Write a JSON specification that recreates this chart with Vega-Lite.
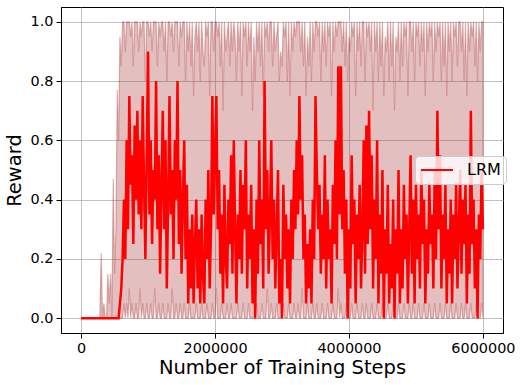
{
"$schema": "https://vega.github.io/schema/vega-lite/v6.json",
"width": 442, "height": 326,
"autosize": {"type": "none"},
"padding": {"left": 61, "top": 7, "right": 24, "bottom": 52},
"background": "white",
"config": {
 "view": {"stroke": "#000", "strokeWidth": 1},
 "font": "DejaVu Sans",
 "axis": {"labelFont": "DejaVu Sans", "titleFont": "DejaVu Sans", "labelFontSize": 14.4, "titleFontSize": 19.5, "titleFontWeight": "normal", "labelColor": "#000", "titleColor": "#000", "tickColor": "#000", "domainColor": "#000", "gridColor": "#b0b0b0", "gridWidth": 0.8, "tickSize": 5, "tickWidth": 1, "labelPadding": 3}
},
"data": {"values": [
{"s":0,"r":0,"lo":0,"hi":0},
{"s":20000,"r":0,"lo":0,"hi":0},
{"s":40000,"r":0,"lo":0,"hi":0},
{"s":60000,"r":0,"lo":0,"hi":0},
{"s":80000,"r":0,"lo":0,"hi":0},
{"s":100000,"r":0,"lo":0,"hi":0},
{"s":120000,"r":0,"lo":0,"hi":0},
{"s":140000,"r":0,"lo":0,"hi":0},
{"s":160000,"r":0,"lo":0,"hi":0},
{"s":180000,"r":0,"lo":0,"hi":0},
{"s":200000,"r":0,"lo":0,"hi":0},
{"s":220000,"r":0,"lo":0,"hi":0},
{"s":240000,"r":0,"lo":0,"hi":0},
{"s":260000,"r":0,"lo":0,"hi":0},
{"s":280000,"r":0,"lo":0,"hi":0},
{"s":300000,"r":0,"lo":0,"hi":0.22},
{"s":320000,"r":0,"lo":0,"hi":0},
{"s":340000,"r":0,"lo":0,"hi":0.05},
{"s":360000,"r":0,"lo":0,"hi":0},
{"s":380000,"r":0,"lo":0,"hi":0},
{"s":400000,"r":0,"lo":0,"hi":0.15},
{"s":420000,"r":0,"lo":0,"hi":0.05},
{"s":440000,"r":0,"lo":0,"hi":0.15},
{"s":460000,"r":0,"lo":0,"hi":0},
{"s":480000,"r":0,"lo":0,"hi":0.47},
{"s":500000,"r":0,"lo":0,"hi":0.15},
{"s":520000,"r":0,"lo":0,"hi":0.3},
{"s":540000,"r":0,"lo":0,"hi":0.77},
{"s":560000,"r":0,"lo":0,"hi":0.6},
{"s":580000,"r":0.05,"lo":0,"hi":0.95},
{"s":600000,"r":0.1,"lo":0,"hi":0.85},
{"s":620000,"r":0.2,"lo":0,"hi":1},
{"s":640000,"r":0.4,"lo":0.05,"hi":1},
{"s":660000,"r":0.2,"lo":0,"hi":0.9},
{"s":680000,"r":0.6,"lo":0.05,"hi":1},
{"s":700000,"r":0.3,"lo":0,"hi":1},
{"s":720000,"r":0.75,"lo":0.1,"hi":1},
{"s":740000,"r":0.45,"lo":0,"hi":0.95},
{"s":760000,"r":0.55,"lo":0.05,"hi":1},
{"s":780000,"r":0.25,"lo":0,"hi":0.85},
{"s":800000,"r":0.65,"lo":0,"hi":1},
{"s":820000,"r":0.4,"lo":0.05,"hi":1},
{"s":840000,"r":0.7,"lo":0,"hi":1},
{"s":860000,"r":0.35,"lo":0,"hi":0.9},
{"s":880000,"r":0.6,"lo":0.1,"hi":1},
{"s":900000,"r":0.3,"lo":0,"hi":0.95},
{"s":920000,"r":0.75,"lo":0.05,"hi":1},
{"s":940000,"r":0.45,"lo":0,"hi":1},
{"s":960000,"r":0.2,"lo":0,"hi":0.8},
{"s":980000,"r":0.55,"lo":0.05,"hi":1},
{"s":1000000,"r":0.9,"lo":0,"hi":1},
{"s":1020000,"r":0.35,"lo":0,"hi":0.95},
{"s":1040000,"r":0.6,"lo":0.05,"hi":1},
{"s":1060000,"r":0.25,"lo":0,"hi":0.9},
{"s":1080000,"r":0.5,"lo":0,"hi":1},
{"s":1100000,"r":0.4,"lo":0.1,"hi":1},
{"s":1120000,"r":0.8,"lo":0,"hi":1},
{"s":1140000,"r":0.3,"lo":0,"hi":0.85},
{"s":1160000,"r":0.55,"lo":0.05,"hi":1},
{"s":1180000,"r":0.15,"lo":0,"hi":0.95},
{"s":1200000,"r":0.45,"lo":0,"hi":1},
{"s":1220000,"r":0.7,"lo":0.05,"hi":1},
{"s":1240000,"r":0.3,"lo":0,"hi":0.9},
{"s":1260000,"r":0.6,"lo":0,"hi":1},
{"s":1280000,"r":0.1,"lo":0,"hi":0.8},
{"s":1300000,"r":0.4,"lo":0.05,"hi":1},
{"s":1320000,"r":0.75,"lo":0,"hi":1},
{"s":1340000,"r":0.35,"lo":0,"hi":0.95},
{"s":1360000,"r":0.5,"lo":0.1,"hi":1},
{"s":1380000,"r":0.2,"lo":0,"hi":0.9},
{"s":1400000,"r":0.6,"lo":0,"hi":1},
{"s":1420000,"r":0.4,"lo":0.05,"hi":1},
{"s":1440000,"r":0.8,"lo":0,"hi":1},
{"s":1460000,"r":0.25,"lo":0,"hi":0.85},
{"s":1480000,"r":0.5,"lo":0.05,"hi":1},
{"s":1500000,"r":0.15,"lo":0,"hi":0.95},
{"s":1520000,"r":0.4,"lo":0,"hi":1},
{"s":1540000,"r":0.6,"lo":0.05,"hi":1},
{"s":1560000,"r":0.2,"lo":0,"hi":0.8},
{"s":1580000,"r":0.45,"lo":0,"hi":1},
{"s":1600000,"r":0.05,"lo":0,"hi":0.9},
{"s":1620000,"r":0.3,"lo":0.05,"hi":1},
{"s":1640000,"r":0.1,"lo":0,"hi":0.85},
{"s":1660000,"r":0.35,"lo":0,"hi":1},
{"s":1680000,"r":0.05,"lo":0,"hi":0.75},
{"s":1700000,"r":0.25,"lo":0,"hi":0.95},
{"s":1720000,"r":0.4,"lo":0.05,"hi":1},
{"s":1740000,"r":0.1,"lo":0,"hi":0.9},
{"s":1760000,"r":0.3,"lo":0,"hi":1},
{"s":1780000,"r":0.05,"lo":0,"hi":0.8},
{"s":1800000,"r":0.35,"lo":0.05,"hi":1},
{"s":1820000,"r":0.15,"lo":0,"hi":0.9},
{"s":1840000,"r":0.05,"lo":0,"hi":0.85},
{"s":1860000,"r":0.4,"lo":0,"hi":1},
{"s":1880000,"r":0.2,"lo":0.05,"hi":0.95},
{"s":1900000,"r":0.5,"lo":0,"hi":1},
{"s":1920000,"r":0.1,"lo":0,"hi":0.75},
{"s":1940000,"r":0.3,"lo":0,"hi":1},
{"s":1960000,"r":0.75,"lo":0.05,"hi":1},
{"s":1980000,"r":0.35,"lo":0,"hi":0.9},
{"s":2000000,"r":0.55,"lo":0,"hi":1},
{"s":2020000,"r":0.75,"lo":0.1,"hi":1},
{"s":2040000,"r":0.3,"lo":0,"hi":0.95},
{"s":2060000,"r":0.5,"lo":0,"hi":1},
{"s":2080000,"r":0.15,"lo":0,"hi":0.85},
{"s":2100000,"r":0.35,"lo":0.05,"hi":1},
{"s":2120000,"r":0.05,"lo":0,"hi":0.7},
{"s":2140000,"r":0.45,"lo":0,"hi":1},
{"s":2160000,"r":0.2,"lo":0,"hi":0.9},
{"s":2180000,"r":0.1,"lo":0.05,"hi":0.95},
{"s":2200000,"r":0.4,"lo":0,"hi":1},
{"s":2220000,"r":0.25,"lo":0,"hi":0.85},
{"s":2240000,"r":0.55,"lo":0.05,"hi":1},
{"s":2260000,"r":0.15,"lo":0,"hi":0.9},
{"s":2280000,"r":0.6,"lo":0,"hi":1},
{"s":2300000,"r":0.3,"lo":0,"hi":0.95},
{"s":2320000,"r":0.05,"lo":0,"hi":0.8},
{"s":2340000,"r":0.35,"lo":0.05,"hi":1},
{"s":2360000,"r":0.2,"lo":0,"hi":0.9},
{"s":2380000,"r":0.5,"lo":0,"hi":1},
{"s":2400000,"r":0.15,"lo":0,"hi":0.75},
{"s":2420000,"r":0.45,"lo":0.05,"hi":1},
{"s":2440000,"r":0.3,"lo":0,"hi":0.95},
{"s":2460000,"r":0.6,"lo":0,"hi":1},
{"s":2480000,"r":0.1,"lo":0,"hi":0.85},
{"s":2500000,"r":0.35,"lo":0.05,"hi":1},
{"s":2520000,"r":0.2,"lo":0,"hi":0.9},
{"s":2540000,"r":0.45,"lo":0,"hi":1},
{"s":2560000,"r":0.05,"lo":0,"hi":0.7},
{"s":2580000,"r":0.3,"lo":0,"hi":0.95},
{"s":2600000,"r":0,"lo":0,"hi":0.8},
{"s":2620000,"r":0.4,"lo":0.05,"hi":1},
{"s":2640000,"r":0.15,"lo":0,"hi":0.9},
{"s":2660000,"r":0.6,"lo":0,"hi":1},
{"s":2680000,"r":0.25,"lo":0,"hi":0.85},
{"s":2700000,"r":0.4,"lo":0.05,"hi":1},
{"s":2720000,"r":0.1,"lo":0,"hi":0.75},
{"s":2740000,"r":0.8,"lo":0,"hi":1},
{"s":2760000,"r":0.3,"lo":0,"hi":0.95},
{"s":2780000,"r":0.5,"lo":0.1,"hi":1},
{"s":2800000,"r":0.15,"lo":0,"hi":0.9},
{"s":2820000,"r":0.35,"lo":0,"hi":1},
{"s":2840000,"r":0.6,"lo":0.05,"hi":1},
{"s":2860000,"r":0.2,"lo":0,"hi":0.85},
{"s":2880000,"r":0.4,"lo":0,"hi":1},
{"s":2900000,"r":0.1,"lo":0,"hi":0.9},
{"s":2920000,"r":0.3,"lo":0.05,"hi":0.95},
{"s":2940000,"r":0.5,"lo":0,"hi":1},
{"s":2960000,"r":0.05,"lo":0,"hi":0.8},
{"s":2980000,"r":0.2,"lo":0,"hi":0.9},
{"s":3000000,"r":0,"lo":0,"hi":0.85},
{"s":3020000,"r":0.45,"lo":0.05,"hi":1},
{"s":3040000,"r":0.2,"lo":0,"hi":0.95},
{"s":3060000,"r":0.35,"lo":0,"hi":1},
{"s":3080000,"r":0.1,"lo":0,"hi":0.8},
{"s":3100000,"r":0.3,"lo":0.05,"hi":1},
{"s":3120000,"r":0.05,"lo":0,"hi":0.75},
{"s":3140000,"r":0.4,"lo":0,"hi":1},
{"s":3160000,"r":0.2,"lo":0,"hi":0.9},
{"s":3180000,"r":0.5,"lo":0.05,"hi":1},
{"s":3200000,"r":0.3,"lo":0,"hi":0.95},
{"s":3220000,"r":0.6,"lo":0,"hi":1},
{"s":3240000,"r":0.35,"lo":0.05,"hi":1},
{"s":3260000,"r":0.75,"lo":0,"hi":1},
{"s":3280000,"r":0.4,"lo":0,"hi":0.9},
{"s":3300000,"r":0.55,"lo":0.1,"hi":1},
{"s":3320000,"r":0.2,"lo":0,"hi":0.85},
{"s":3340000,"r":0.35,"lo":0,"hi":1},
{"s":3360000,"r":0.05,"lo":0,"hi":0.75},
{"s":3380000,"r":0.25,"lo":0.05,"hi":0.95},
{"s":3400000,"r":0.1,"lo":0,"hi":0.85},
{"s":3420000,"r":0.3,"lo":0,"hi":1},
{"s":3440000,"r":0.05,"lo":0,"hi":0.8},
{"s":3460000,"r":0.4,"lo":0.05,"hi":1},
{"s":3480000,"r":0.2,"lo":0,"hi":0.9},
{"s":3500000,"r":0.75,"lo":0,"hi":1},
{"s":3520000,"r":0.5,"lo":0.05,"hi":1},
{"s":3540000,"r":0.3,"lo":0,"hi":0.95},
{"s":3560000,"r":0.45,"lo":0,"hi":1},
{"s":3580000,"r":0.15,"lo":0,"hi":0.8},
{"s":3600000,"r":0.35,"lo":0.05,"hi":1},
{"s":3620000,"r":0.2,"lo":0,"hi":0.9},
{"s":3640000,"r":0.55,"lo":0,"hi":1},
{"s":3660000,"r":0.1,"lo":0,"hi":0.85},
{"s":3680000,"r":0.4,"lo":0.05,"hi":1},
{"s":3700000,"r":0.2,"lo":0,"hi":0.95},
{"s":3720000,"r":0.3,"lo":0,"hi":1},
{"s":3740000,"r":0.05,"lo":0,"hi":0.75},
{"s":3760000,"r":0.45,"lo":0.05,"hi":1},
{"s":3780000,"r":0.25,"lo":0,"hi":0.9},
{"s":3800000,"r":0.6,"lo":0,"hi":1},
{"s":3820000,"r":0.2,"lo":0,"hi":0.95},
{"s":3840000,"r":0.85,"lo":0.1,"hi":1},
{"s":3860000,"r":0.35,"lo":0,"hi":1},
{"s":3880000,"r":0.85,"lo":0.05,"hi":1},
{"s":3900000,"r":0.3,"lo":0,"hi":0.9},
{"s":3920000,"r":0.5,"lo":0,"hi":1},
{"s":3940000,"r":0.15,"lo":0,"hi":0.85},
{"s":3960000,"r":0.4,"lo":0.05,"hi":1},
{"s":3980000,"r":0,"lo":0,"hi":0.8},
{"s":4000000,"r":0.3,"lo":0,"hi":0.95},
{"s":4020000,"r":0.1,"lo":0,"hi":0.9},
{"s":4040000,"r":0.55,"lo":0.05,"hi":1},
{"s":4060000,"r":0.25,"lo":0,"hi":0.95},
{"s":4080000,"r":0.4,"lo":0,"hi":1},
{"s":4100000,"r":0.05,"lo":0,"hi":0.75},
{"s":4120000,"r":0.35,"lo":0.05,"hi":1},
{"s":4140000,"r":0.2,"lo":0,"hi":0.9},
{"s":4160000,"r":0.45,"lo":0,"hi":1},
{"s":4180000,"r":0.1,"lo":0,"hi":0.85},
{"s":4200000,"r":0.3,"lo":0.05,"hi":1},
{"s":4220000,"r":0.6,"lo":0,"hi":1},
{"s":4240000,"r":0.15,"lo":0,"hi":0.8},
{"s":4260000,"r":0.65,"lo":0.05,"hi":1},
{"s":4280000,"r":0.25,"lo":0,"hi":0.95},
{"s":4300000,"r":0.7,"lo":0,"hi":1},
{"s":4320000,"r":0.3,"lo":0,"hi":0.9},
{"s":4340000,"r":0.55,"lo":0.05,"hi":1},
{"s":4360000,"r":0.1,"lo":0,"hi":0.7},
{"s":4380000,"r":0.4,"lo":0,"hi":1},
{"s":4400000,"r":0.2,"lo":0,"hi":0.9},
{"s":4420000,"r":0.6,"lo":0.05,"hi":1},
{"s":4440000,"r":0.05,"lo":0,"hi":0.8},
{"s":4460000,"r":0.35,"lo":0,"hi":1},
{"s":4480000,"r":0.15,"lo":0,"hi":0.85},
{"s":4500000,"r":0.5,"lo":0.05,"hi":1},
{"s":4520000,"r":0,"lo":0,"hi":0.75},
{"s":4540000,"r":0.3,"lo":0,"hi":0.95},
{"s":4560000,"r":0.15,"lo":0,"hi":0.9},
{"s":4580000,"r":0.45,"lo":0.05,"hi":1},
{"s":4600000,"r":0.05,"lo":0,"hi":0.8},
{"s":4620000,"r":0.25,"lo":0,"hi":1},
{"s":4640000,"r":0.1,"lo":0,"hi":0.85},
{"s":4660000,"r":0.4,"lo":0.05,"hi":1},
{"s":4680000,"r":0,"lo":0,"hi":0.7},
{"s":4700000,"r":0.3,"lo":0,"hi":0.95},
{"s":4720000,"r":0.15,"lo":0,"hi":0.9},
{"s":4740000,"r":0.5,"lo":0.05,"hi":1},
{"s":4760000,"r":0.05,"lo":0,"hi":0.8},
{"s":4780000,"r":0.3,"lo":0,"hi":1},
{"s":4800000,"r":0.1,"lo":0,"hi":0.85},
{"s":4820000,"r":0.45,"lo":0.05,"hi":1},
{"s":4840000,"r":0.2,"lo":0,"hi":0.95},
{"s":4860000,"r":0.35,"lo":0,"hi":1},
{"s":4880000,"r":0.05,"lo":0,"hi":0.75},
{"s":4900000,"r":0.3,"lo":0.05,"hi":1},
{"s":4920000,"r":0.55,"lo":0,"hi":1},
{"s":4940000,"r":0.15,"lo":0,"hi":0.9},
{"s":4960000,"r":0.4,"lo":0.05,"hi":1},
{"s":4980000,"r":0.05,"lo":0,"hi":0.8},
{"s":5000000,"r":0.45,"lo":0,"hi":1},
{"s":5020000,"r":0.2,"lo":0,"hi":0.95},
{"s":5040000,"r":0.35,"lo":0.05,"hi":1},
{"s":5060000,"r":0.1,"lo":0,"hi":0.85},
{"s":5080000,"r":0.5,"lo":0,"hi":1},
{"s":5100000,"r":0.25,"lo":0,"hi":0.9},
{"s":5120000,"r":0.4,"lo":0.05,"hi":1},
{"s":5140000,"r":0.05,"lo":0,"hi":0.75},
{"s":5160000,"r":0.3,"lo":0,"hi":1},
{"s":5180000,"r":0.15,"lo":0,"hi":0.9},
{"s":5200000,"r":0.45,"lo":0.05,"hi":1},
{"s":5220000,"r":0.25,"lo":0,"hi":0.95},
{"s":5240000,"r":0.35,"lo":0,"hi":1},
{"s":5260000,"r":0.1,"lo":0,"hi":0.8},
{"s":5280000,"r":0.5,"lo":0.05,"hi":1},
{"s":5300000,"r":0.2,"lo":0,"hi":0.9},
{"s":5320000,"r":0.7,"lo":0,"hi":1},
{"s":5340000,"r":0.3,"lo":0,"hi":0.95},
{"s":5360000,"r":0.55,"lo":0.05,"hi":1},
{"s":5380000,"r":0.1,"lo":0,"hi":0.8},
{"s":5400000,"r":0.35,"lo":0,"hi":1},
{"s":5420000,"r":0.2,"lo":0,"hi":0.85},
{"s":5440000,"r":0.45,"lo":0.05,"hi":1},
{"s":5460000,"r":0.05,"lo":0,"hi":0.75},
{"s":5480000,"r":0.3,"lo":0,"hi":1},
{"s":5500000,"r":0.15,"lo":0,"hi":0.9},
{"s":5520000,"r":0.4,"lo":0.05,"hi":1},
{"s":5540000,"r":0.05,"lo":0,"hi":0.8},
{"s":5560000,"r":0.35,"lo":0,"hi":1},
{"s":5580000,"r":0.2,"lo":0,"hi":0.95},
{"s":5600000,"r":0.45,"lo":0.05,"hi":1},
{"s":5620000,"r":0.1,"lo":0,"hi":0.85},
{"s":5640000,"r":0.3,"lo":0,"hi":1},
{"s":5660000,"r":0.5,"lo":0,"hi":1},
{"s":5680000,"r":0.15,"lo":0.05,"hi":0.9},
{"s":5700000,"r":0.4,"lo":0,"hi":1},
{"s":5720000,"r":0.25,"lo":0,"hi":0.8},
{"s":5740000,"r":0.45,"lo":0.05,"hi":1},
{"s":5760000,"r":0.05,"lo":0,"hi":0.75},
{"s":5780000,"r":0.35,"lo":0,"hi":1},
{"s":5800000,"r":0.15,"lo":0,"hi":0.9},
{"s":5820000,"r":0.7,"lo":0.05,"hi":1},
{"s":5840000,"r":0.25,"lo":0,"hi":0.95},
{"s":5860000,"r":0.4,"lo":0,"hi":1},
{"s":5880000,"r":0.1,"lo":0,"hi":0.85},
{"s":5900000,"r":0.3,"lo":0.05,"hi":1},
{"s":5920000,"r":0,"lo":0,"hi":0.8},
{"s":5940000,"r":0.35,"lo":0,"hi":1},
{"s":5960000,"r":0.2,"lo":0,"hi":0.9},
{"s":5980000,"r":0.5,"lo":0.05,"hi":1},
{"s":6000000,"r":0.3,"lo":0,"hi":1}
]},
"encoding": {
 "x": {"field": "s", "type": "quantitative", "scale": {"domain": [-300000, 6300000], "nice": false, "zero": false}, "axis": {"title": "Number of Training Steps", "values": [0, 2000000, 4000000, 6000000], "format": "d", "titlePadding": 4}}
},
"layer": [
 {"mark": {"type": "area", "fill": "#a52a2a", "fillOpacity": 0.3, "stroke": "#a52a2a", "strokeOpacity": 0.35, "strokeWidth": 1.2},
  "encoding": {"y": {"field": "lo", "type": "quantitative", "scale": {"domain": [-0.05, 1.05], "nice": false, "zero": false}, "axis": {"title": "Reward", "values": [0, 0.2, 0.4, 0.6, 0.8, 1.0], "format": ".1f", "titlePadding": 6}}, "y2": {"field": "hi"}}},
 {"mark": {"type": "line", "strokeWidth": 2.5},
  "encoding": {"y": {"field": "r", "type": "quantitative"},
   "color": {"datum": "LRM", "type": "nominal", "scale": {"range": ["#ff0000"]},
    "legend": {"title": null, "orient": "none", "legendX": 354, "legendY": 149, "symbolType": "stroke", "symbolSize": 1024, "symbolStrokeWidth": 2, "labelFontSize": 16, "labelFont": "DejaVu Sans", "labelColor": "#000", "labelOffset": 13, "padding": 5, "clipHeight": 18, "fillColor": "rgba(255,255,255,0.8)", "strokeColor": "#cccccc", "cornerRadius": 4}}}}
]
}
